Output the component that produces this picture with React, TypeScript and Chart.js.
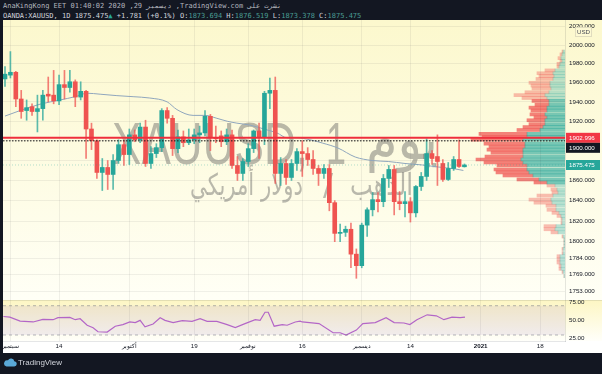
import React, { useEffect, useRef } from 'react';
import { Chart, registerables } from 'chart.js';
Chart.register(...registerables);

// ---------- data (daily candles, index 0 = 31 Aug 2020) ----------
const opens = [1964,1968,1971,1943,1931,1935,1930,1933,1948,1947,1941,1958,1955,1961,1945,1951,1912,1900,1868,1873,1866,1880,1896,1886,1906,1901,1914,1877,1887,1893,1931,1923,1892,1904,1898,1901,1906,1908,1925,1903,1905,1899,1906,1875,1867,1879,1892,1910,1904,1949,1952,1867,1877,1863,1877,1889,1887,1881,1872,1867,1872,1838,1808,1809,1812,1788,1777,1816,1831,1841,1839,1862,1871,1839,1837,1839,1828,1854,1864,1887,1884,1877,1861,1872,1881,1873.694];
const highs = [1977,1993,1972,1952,1942,1938,1947,1952,1966,1973,1968,1973,1973,1963,1961,1952,1918,1901,1882,1880,1886,1901,1901,1912,1911,1918,1921,1894,1897,1933,1934,1926,1911,1910,1912,1912,1915,1931,1927,1915,1910,1912,1911,1884,1882,1897,1911,1918,1951,1965,1966,1883,1881,1881,1892,1900,1893,1890,1875,1876,1876,1840,1817,1815,1818,1793,1818,1833,1848,1848,1866,1875,1875,1849,1849,1843,1855,1868,1902,1890,1906,1881,1878,1884,1901,1876.519];
const lows = [1956,1965,1935,1923,1921,1926,1909,1921,1940,1938,1937,1943,1950,1935,1942,1882,1891,1862,1850,1851,1851,1877,1875,1876,1899,1898,1874,1872,1883,1889,1918,1885,1888,1894,1896,1897,1898,1905,1890,1898,1894,1896,1872,1860,1860,1874,1888,1882,1896,1933,1857,1855,1856,1860,1870,1864,1875,1866,1855,1862,1830,1800,1800,1805,1775,1765,1775,1805,1825,1829,1834,1853,1826,1831,1824,1819,1824,1850,1860,1876,1855,1859,1860,1870,1873,1873.378];
const closes = [1969,1971,1943,1930,1934,1930,1933,1947,1946,1941,1958,1955,1961,1945,1951,1912,1900,1868,1873,1866,1880,1896,1886,1906,1901,1914,1877,1887,1893,1931,1923,1892,1904,1898,1901,1906,1908,1925,1903,1902,1899,1906,1875,1867,1879,1892,1910,1904,1949,1952,1867,1877,1863,1877,1889,1887,1881,1872,1867,1872,1838,1808,1809,1812,1788,1777,1816,1831,1841,1839,1862,1871,1839,1837,1839,1828,1854,1864,1887,1882,1879,1861,1872,1881,1874,1875.475];

const maIdx = [0,2.8,6.5,10.2,13,15.2,17.6,20.7,23.7,26.8,30,31.8,34.8,37,39.2,41.1,42.9,45.3,48.5,50.3,52.2,54,56.4,58.7,61.6,64.8,67.9,70.9,74,77.2,80.1,83.3,84.8];
const maVals = [1925.3,1931,1937.6,1942,1945.4,1949,1948,1946.5,1945.4,1944,1940,1932,1926,1926,1923,1920,1918,1916,1911,1908,1903,1903,1901,1897.7,1892.6,1883.5,1880,1879,1877,1875.5,1873.5,1871.5,1870];

const rsiIdx = [-0.3,0.9,2.8,5.2,7.0,8.9,9.8,12.0,13.0,13.9,15.2,16.3,17.2,18.9,20.4,21.8,23.1,24.1,25.0,25.9,27.4,28.7,29.6,31.1,32.8,34.6,36.1,37.4,39.2,41.1,42.6,44.4,46.3,47.2,48.1,48.7,49.8,51.3,52.2,53.7,54.6,55.0,58.1,60.7,62.0,63.1,65.0,66.2,68.5,70.5,72.0,73.8,74.9,76.2,78.1,79.8,81.2,82.7,84.2,85.1];
const rsiVals = [55.3,54.4,49,47.8,51.3,50.9,53.6,54,50.9,52.2,43.3,39.8,34.4,34,42,44.2,47.8,46.9,50,41.1,45.1,53.6,50,46.9,49.6,48.7,52.2,48.7,48.7,44.2,40.2,45.6,50.9,50,61.1,61.1,42,44.2,43.3,47.8,49,47.8,45.6,33.1,33.1,30,36.7,45.6,46.9,53.6,46.9,46.4,44.2,50.9,57.6,56.2,50.9,54.4,53.6,54.4];

const priceTicks = [2020,2000,1980,1960,1940,1920,1900,1880,1860,1840,1820,1800,1784,1769,1753];
const hiddenPriceTicks = [1900,1880];
const timeTickIdx = [1,10,23,35,45,55,66,75,88,99];
const timeTickLabels = ['سبتمبر','14','أكتوبر','19','نوفمبر','16','ديسمبر','14','2021','18'];
const rsiTicks = [25,50,75];
const rsiUpper = 70;
const rsiLower = 30;

const profPrices = [1993,1990,1986,1983,1980,1977,1973,1970,1967,1964,1960,1957,1954,1950,1947,1944,1941,1937,1934,1931,1927,1924,1921,1917,1914,1911,1907,1904,1901,1897,1894,1891,1888,1884,1881,1878,1875,1871,1868,1865,1861,1858,1855,1851,1848,1845,1841,1838,1835,1831,1828,1825,1822,1818,1815,1812,1809,1805,1802,1799,1796,1793,1789,1786,1783,1780,1777,1774,1771,1767];
const profUp = [2,3,4,3,5,6,10,12,11,12,15,15,14,16,20,18,16,16,18,18,20,18,20,20,22,25,38,38,42,40,40,42,42,42,44,42,38,38,36,32,26,18,10,8,7,12,14,13,9,9,6,4,3,3,9,10,7,2,1,1,1,2,2,5,5,5,4,4,2,1];
const profDown = [1,2,3,2,3,2,10,16,15,17,21,19,19,24,31,25,17,14,18,16,15,13,18,16,20,23,48,45,52,41,36,36,32,38,45,39,30,33,33,30,22,13,8,6,6,16,22,18,10,9,7,4,1,1,12,11,7,1,0,0,0,1,1,3,3,3,2,2,1,0];
const valueAreaLow = 1858;
const valueAreaHigh = 1942;

const lastPrice = 1875.475;
const redLevel = 1902.996;
const blackLevel = 1900;

// ---------- styling ----------
const X_MIN = -0.37, X_MAX = 103.6;
const Y_MIN = 1744.6, Y_MAX = 2027;
const UP = '#26a69a', DOWN = '#ef5350';
const GRID = 'rgba(42,46,57,0.07)';
const AXIS_FONT = '"Liberation Sans", Arial, sans-serif';
const TXT = '#131722';

const hline = (v: number) => [{ x: X_MIN, y: v }, { x: X_MAX, y: v }];

const watermark = {
  id: 'watermark',
  beforeDatasetsDraw(chart: any) {
    const { ctx } = chart;
    ctx.save();
    ctx.direction = 'ltr';
    ctx.fillStyle = 'rgba(90,90,90,0.42)';
    ctx.textBaseline = 'alphabetic';
    ctx.textAlign = 'left';
    ctx.font = '60px "Liberation Sans", "DejaVu Sans", sans-serif';
    ctx.fillText('XAUUSD,', 109, 144, 196);
    ctx.fillText('1', 323, 144, 20);
    ctx.font = '58px "DejaVu Sans", "Liberation Sans", sans-serif';
    ctx.fillText('يوم', 363, 139, 72);
    ctx.font = '30px "DejaVu Sans", "Liberation Sans", sans-serif';
    ctx.fillText('الذهب', 347, 175, 63);
    ctx.fillText('/', 320, 175, 12);
    ctx.fillText('دولار أمريكي', 187, 175, 113);
    ctx.restore();
  },
};

const axisBoxes = {
  id: 'axisBoxes',
  afterDraw(chart: any) {
    const { ctx, chartArea, scales } = chart;
    const y = scales.y;
    const x0 = chartArea.right;
    const w = 34;
    const box = (cy: number, bg: string, text: string) => {
      ctx.fillStyle = bg;
      ctx.fillRect(x0 + 1, cy - 5, w, 10);
      ctx.fillStyle = '#ffffff';
      ctx.font = '6.2px ' + AXIS_FONT;
      ctx.textAlign = 'left';
      ctx.textBaseline = 'middle';
      ctx.fillText(text, x0 + 4, cy + 0.5);
    };
    ctx.save();
    const ry = y.getPixelForValue(redLevel);
    box(ry, '#f23645', redLevel.toFixed(3));
    box(ry + 10, '#131722', blackLevel.toFixed(3));
    box(y.getPixelForValue(lastPrice), UP, lastPrice.toFixed(3));
    ctx.fillStyle = '#fdf9d3';
    ctx.fillRect(x0 + 10, 7, 17, 10);
    ctx.setLineDash([1, 1]);
    ctx.strokeStyle = 'rgba(42,46,57,0.35)';
    ctx.lineWidth = 0.8;
    ctx.strokeRect(x0 + 10.5, 7.5, 16, 9);
    ctx.setLineDash([]);
    ctx.fillStyle = '#4a4d57';
    ctx.font = '6.2px ' + AXIS_FONT;
    ctx.textAlign = 'center';
    ctx.textBaseline = 'middle';
    ctx.fillText('USD', x0 + 18.5, 12.5);
    ctx.restore();
  },
};

function MainChart() {
  const ref = useRef<HTMLCanvasElement>(null);
  useEffect(() => {
    const isUp = (i: number) => closes[i] >= opens[i];
    const bodies = closes.map((c, i) => ({ x: i, y: [opens[i], c] }));
    const wicks = closes.map((c, i) => ({ x: i, y: [lows[i], highs[i]] }));
    const chart = new Chart(ref.current as HTMLCanvasElement, {
      type: 'bar',
      data: {
        datasets: [
          { type: 'line', data: hline(redLevel), borderColor: '#ef2f3c', borderWidth: 2, pointRadius: 0, order: 0 } as any,
          { type: 'line', data: hline(blackLevel), borderColor: 'rgba(30,30,30,0.7)', borderWidth: 1.4, borderDash: [1.5, 1.5], pointRadius: 0, order: 0 } as any,
          { type: 'line', data: hline(lastPrice), borderColor: 'rgba(38,166,154,0.35)', borderWidth: 1, borderDash: [1, 2], pointRadius: 0, order: 0 } as any,
          { type: 'bar', data: bodies, backgroundColor: closes.map((_, i) => (isUp(i) ? UP : DOWN)), barThickness: 4, minBarLength: 1, grouped: false, order: 1 } as any,
          { type: 'bar', data: wicks, backgroundColor: closes.map((_, i) => (isUp(i) ? 'rgba(38,166,154,0.75)' : 'rgba(239,83,80,0.75)')), barThickness: 1, grouped: false, order: 2 } as any,
          { type: 'line', data: maIdx.map((x, i) => ({ x, y: maVals[i] })), borderColor: '#8fa6bd', borderWidth: 1, pointRadius: 0, cubicInterpolationMode: 'monotone', order: 3 } as any,
        ],
      },
      options: {
        responsive: false,
        animation: false,
        layout: { padding: 0, autoPadding: false } as any,
        plugins: { legend: { display: false }, tooltip: { enabled: false } },
        scales: {
          x: {
            type: 'linear', min: X_MIN, max: X_MAX, offset: false,
            afterBuildTicks: (s: any) => { s.ticks = timeTickIdx.map((v) => ({ value: v })); },
            ticks: { display: false },
            grid: { color: GRID, drawTicks: false, offset: false },
            border: { display: false },
            afterFit: (s: any) => { s.height = 0; s.paddingLeft = 0; s.paddingRight = 0; },
          } as any,
          y: {
            type: 'logarithmic', position: 'right', min: Y_MIN, max: Y_MAX, beginAtZero: false,
            afterBuildTicks: (s: any) => { s.ticks = priceTicks.map((v) => ({ value: v })); },
            ticks: {
              autoSkip: false, padding: 4, color: TXT,
              font: { family: AXIS_FONT, size: 6.2 },
              callback: (v: any) => (hiddenPriceTicks.includes(Number(v)) ? '' : Number(v).toFixed(3)),
            },
            grid: { color: GRID, drawTicks: false },
            border: { display: true, color: 'rgba(42,46,57,0.12)' },
            afterFit: (s: any) => { s.width = 37; s.paddingTop = 0; s.paddingBottom = 0; },
          } as any,
        },
      },
      plugins: [watermark, axisBoxes],
    });
    return () => chart.destroy();
  }, []);
  return <canvas ref={ref} width={599} height={280} style={{ position: 'absolute', left: 3, top: 20, width: 599, height: 280 }} />;
}

function ProfileChart() {
  const ref = useRef<HTMLCanvasElement>(null);
  useEffect(() => {
    const inVA = (p: number) => p >= valueAreaLow && p <= valueAreaHigh;
    const chart = new Chart(ref.current as HTMLCanvasElement, {
      type: 'bar',
      data: {
        datasets: [
          {
            data: profPrices.map((p, i) => ({ y: p, x: [0, profUp[i]] })),
            backgroundColor: profPrices.map((p) => (inVA(p) ? 'rgba(38,166,154,0.62)' : 'rgba(38,166,154,0.32)')),
            barThickness: 3, grouped: false,
          } as any,
          {
            data: profPrices.map((p, i) => ({ y: p, x: [profUp[i], profUp[i] + profDown[i]] })),
            backgroundColor: profPrices.map((p) => (inVA(p) ? 'rgba(239,83,80,0.72)' : 'rgba(239,83,80,0.38)')),
            barThickness: 3, grouped: false,
          } as any,
        ],
      },
      options: {
        indexAxis: 'y',
        responsive: false,
        animation: false,
        layout: { padding: 0, autoPadding: false } as any,
        plugins: { legend: { display: false }, tooltip: { enabled: false } },
        scales: {
          x: { type: 'linear', reverse: true, min: 0, max: 562, display: false } as any,
          y: { type: 'logarithmic', min: Y_MIN, max: Y_MAX, display: false, offset: false, beginAtZero: false } as any,
        },
      },
    });
    return () => chart.destroy();
  }, []);
  return <canvas ref={ref} width={562} height={280} style={{ position: 'absolute', left: 3, top: 20, width: 562, height: 280 }} />;
}

const coverBelow = {
  id: 'coverBelow',
  afterDraw(chart: any) {
    const { ctx, chartArea } = chart;
    ctx.save();
    ctx.fillStyle = '#ffffff';
    ctx.fillRect(chartArea.right + 1, chartArea.bottom, chart.width - chartArea.right, chart.height - chartArea.bottom);
    ctx.restore();
  },
};

function RsiChart() {
  const ref = useRef<HTMLCanvasElement>(null);
  useEffect(() => {
    const chart = new Chart(ref.current as HTMLCanvasElement, {
      type: 'line',
      data: {
        datasets: [
          { data: hline(rsiUpper), borderColor: 'rgba(120,123,134,0.55)', borderWidth: 1, borderDash: [3, 3], pointRadius: 0, fill: false } as any,
          { data: hline(rsiLower), borderColor: 'rgba(120,123,134,0.55)', borderWidth: 1, borderDash: [3, 3], pointRadius: 0, fill: '-1', backgroundColor: 'rgba(126,87,194,0.11)' } as any,
          { data: rsiIdx.map((x, i) => ({ x, y: rsiVals[i] })), borderColor: '#ba68c8', borderWidth: 1.2, pointRadius: 0, fill: false } as any,
        ],
      },
      options: {
        responsive: false,
        animation: false,
        layout: { padding: 0, autoPadding: false } as any,
        plugins: { legend: { display: false }, tooltip: { enabled: false } },
        scales: {
          x: {
            type: 'linear', min: X_MIN, max: X_MAX, offset: false,
            afterBuildTicks: (s: any) => { s.ticks = timeTickIdx.map((v) => ({ value: v })); },
            ticks: {
              autoSkip: false, maxRotation: 0, minRotation: 0, padding: 2, color: TXT,
              font: (c: any) => ({ family: AXIS_FONT, size: 6.2, weight: c.tick && c.tick.value === 88 ? 'bold' : 'normal' }),
              callback: (v: any) => timeTickLabels[timeTickIdx.indexOf(Number(v))],
            },
            grid: { color: GRID, drawTicks: false },
            border: { display: true, color: 'rgba(42,46,57,0.12)' },
            afterFit: (s: any) => { s.height = 12; s.paddingLeft = 0; s.paddingRight = 0; },
          } as any,
          y: {
            type: 'linear', position: 'right', min: 21.8, max: 77.8,
            afterBuildTicks: (s: any) => { s.ticks = rsiTicks.map((v) => ({ value: v })); },
            ticks: { autoSkip: false, padding: 4, color: TXT, font: { family: AXIS_FONT, size: 6.2 }, callback: (v: any) => Number(v).toFixed(2) },
            grid: { display: false, drawTicks: false },
            border: { display: true, color: 'rgba(42,46,57,0.12)' },
            afterFit: (s: any) => { s.width = 37; s.paddingTop = 0; s.paddingBottom = 0; },
          } as any,
        },
      },
      plugins: [coverBelow],
    });
    return () => chart.destroy();
  }, []);
  return <canvas ref={ref} width={599} height={53} style={{ position: 'absolute', left: 3, top: 300, width: 599, height: 53 }} />;
}

const mono = '7px "DejaVu Sans Mono", monospace';
const val = '#4a9d94';

export default function App() {
  return (
    <div style={{ position: 'fixed', left: 0, top: 0, width: 602, height: 374, background: '#131722', overflow: 'hidden' }}>
      <div style={{ position: 'absolute', left: 3, top: 2, font: mono, lineHeight: '9px', color: '#b2b5be', whiteSpace: 'pre' }}>
        AnaKingKong EET 01:40:02 2020 ,29 ديسمبر ,TradingView.com نشرت على
      </div>
      <div style={{ position: 'absolute', left: 3, top: 11.5, font: mono, lineHeight: '9px', color: '#d1d4dc', whiteSpace: 'pre' }}>
        <span>OANDA:XAUUSD, 1D 1875.475</span>
        <span style={{ color: UP }}>▲</span>
        <span> +1.781 (+0.1%) O:</span><span style={{ color: val }}>1873.694</span>
        <span> H:</span><span style={{ color: val }}>1876.519</span>
        <span> L:</span><span style={{ color: val }}>1873.378</span>
        <span> C:</span><span style={{ color: val }}>1875.475</span>
      </div>
      <div style={{ position: 'absolute', left: 3, top: 20, width: 599, height: 280, background: 'linear-gradient(#fcf8cd, #fffff6)' }} />
      <div style={{ position: 'absolute', left: 3, top: 300, width: 599, height: 41, background: 'linear-gradient(#fdf6c3, #fffffa)' }} />
      <div style={{ position: 'absolute', left: 3, top: 341, width: 599, height: 12, background: '#ffffff' }} />
      <ProfileChart />
      <MainChart />
      <RsiChart />
      <div style={{ position: 'absolute', left: 3, top: 300, width: 599, height: 1, background: 'rgba(42,46,57,0.12)' }} />
      <svg width={13} height={10} style={{ position: 'absolute', left: 4, top: 357 }}>
        <path d="M2.5 9.5 H10 A2.6 2.6 0 0 0 10.3 4.3 A3.4 3.4 0 0 0 4 3.3 A2.9 2.9 0 0 0 2.5 9.5 Z" fill="#5aa9d8" />
      </svg>
      <div style={{ position: 'absolute', left: 18, top: 358, font: '8px "Liberation Sans", Arial, sans-serif', color: '#d1d4dc', whiteSpace: 'pre' }}>TradingView</div>
    </div>
  );
}
